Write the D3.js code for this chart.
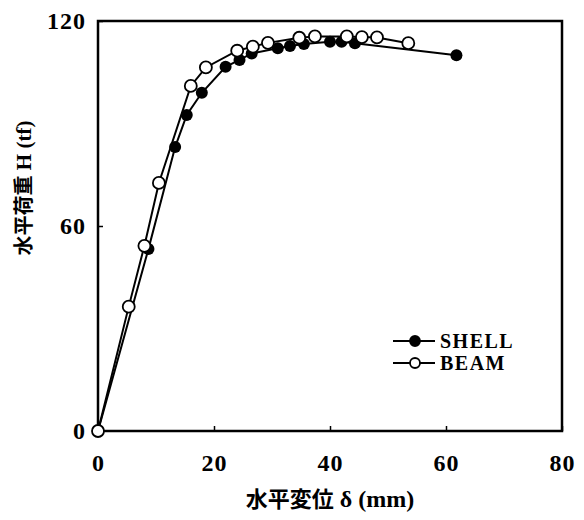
<!DOCTYPE html>
<html>
<head>
<meta charset="utf-8">
<script src="https://cdn.jsdelivr.net/npm/d3@7"></script>
<style>
  body { margin: 0; background: #fff; }
  svg { display: block; }
</style>
</head>
<body>
<svg width="584" height="520"></svg>
<script>
// データ
const shellX = [0, 8.7, 13.3, 15.3, 17.9, 22.0, 24.4, 26.5, 31.0, 33.1, 35.5, 40.0, 42.0, 44.3, 61.8];
const shellY = [0, 53.3, 83.1, 92.5, 99.0, 106.6, 108.6, 110.5, 112.0, 112.7, 113.3, 113.9, 113.9, 113.5, 110.0];
const beamX = [0, 5.3, 8.0, 10.5, 16.0, 18.6, 24.0, 26.7, 29.3, 34.7, 37.4, 42.9, 45.5, 48.1, 53.5];
const beamY = [0, 36.4, 54.2, 72.6, 101.0, 106.4, 111.3, 112.5, 113.6, 115.1, 115.5, 115.5, 115.3, 115.2, 113.5];
const xTicks = [0, 20, 40, 60, 80];
const yTicks = [0, 60, 120];
const seriesNames = ["SHELL", "BEAM"];

const svg = d3.select("svg");
const mLeft = 98, mRight = 562, mTop = 21, mBottom = 431;

const x = d3.scaleLinear().domain([0, 80]).range([mLeft, mRight]);
const y = d3.scaleLinear().domain([0, 120]).range([mBottom, mTop]);

const serif = "'Liberation Serif', 'Times New Roman', serif";
const cjk = "'Noto Sans CJK JP', sans-serif";

// 枠
svg.append("rect")
  .attr("x", mLeft).attr("y", mTop)
  .attr("width", mRight - mLeft).attr("height", mBottom - mTop)
  .attr("fill", "none").attr("stroke", "#000").attr("stroke-width", 2.5);

// 目盛り（内向き）
const xAxis = d3.axisBottom(x).tickValues(xTicks).tickSize(-5).tickPadding(23).tickFormat(d3.format("d"));
const gx = svg.append("g").attr("transform", `translate(0,${mBottom})`).call(xAxis);
const yAxis = d3.axisLeft(y).tickValues(yTicks).tickSize(-5).tickPadding(12).tickFormat(d3.format("d"));
const gy = svg.append("g").attr("transform", `translate(${mLeft},0)`).call(yAxis);

[gx, gy].forEach(g => {
  g.select(".domain").remove();
  g.selectAll(".tick line").attr("stroke", "#000").attr("stroke-width", 1.5);
  g.selectAll(".tick text")
    .attr("fill", "#000")
    .attr("font-family", serif)
    .attr("font-weight", "bold")
    .attr("font-size", 24)
    .attr("letter-spacing", 1);
});

// 軸タイトル
const xt = svg.append("text")
  .attr("x", (mLeft + mRight) / 2).attr("y", 507)
  .attr("text-anchor", "middle")
  .attr("font-weight", "bold");
xt.append("tspan").attr("font-family", cjk).attr("font-size", 22).text("水平変位");
xt.append("tspan").attr("font-family", serif).attr("font-size", 24).text(" δ (mm)");

const yt = svg.append("text")
  .attr("transform", "translate(31,188) rotate(-90)")
  .attr("text-anchor", "middle")
  .attr("font-weight", "bold");
yt.append("tspan").attr("font-family", cjk).attr("font-size", 20).text("水平荷重");
yt.append("tspan").attr("font-family", serif).attr("font-size", 21).text(" H (tf)");

// 線
const line = d3.line().x(d => x(d[0])).y(d => y(d[1]));
const shell = shellX.map((v, i) => [v, shellY[i]]);
const beam = beamX.map((v, i) => [v, beamY[i]]);

svg.append("path").datum(shell).attr("d", line)
  .attr("fill", "none").attr("stroke", "#000").attr("stroke-width", 2);
svg.append("path").datum(beam).attr("d", line)
  .attr("fill", "none").attr("stroke", "#000").attr("stroke-width", 2);

// マーカー
svg.selectAll("circle.shell")
  .data(shell)
  .enter()
  .append("circle")
  .attr("class", "shell")
  .attr("cx", d => x(d[0]))
  .attr("cy", d => y(d[1]))
  .attr("r", 6)
  .attr("fill", "#000");

svg.selectAll("circle.beam")
  .data(beam)
  .enter()
  .append("circle")
  .attr("class", "beam")
  .attr("cx", d => x(d[0]))
  .attr("cy", d => y(d[1]))
  .attr("r", 6)
  .attr("fill", "#fff")
  .attr("stroke", "#000")
  .attr("stroke-width", 1.8);

// 凡例
const legend = svg.append("g");
seriesNames.forEach((name, i) => {
  const ly = 341 + i * 22;
  legend.append("line")
    .attr("x1", 393).attr("x2", 435).attr("y1", ly).attr("y2", ly)
    .attr("stroke", "#000").attr("stroke-width", 2);
  legend.append("circle")
    .attr("cx", 415).attr("cy", ly).attr("r", 5)
    .attr("fill", i === 0 ? "#000" : "#fff")
    .attr("stroke", "#000").attr("stroke-width", 1.8);
  legend.append("text")
    .attr("x", 440).attr("y", ly + 7)
    .attr("font-family", serif).attr("font-weight", "bold").attr("font-size", 20)
    .attr("letter-spacing", 1.5)
    .attr("fill", "#000")
    .text(name);
});
</script>
</body>
</html>
